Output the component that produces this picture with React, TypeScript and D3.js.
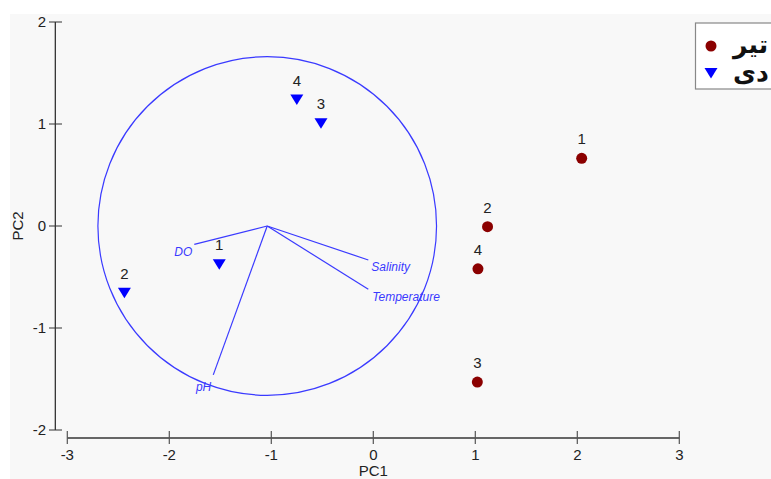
import React from "react";
import * as d3 from "d3";

const W = 771;
const H = 479;

// Series: تیر (dark red circles)
const tirLabels = ["1", "2", "3", "4"];
const tirX = [2.043, 1.12, 1.02, 1.026];
const tirY = [0.664, -0.007, -1.53, -0.42];

// Series: دی (blue triangles)
const deyLabels = ["1", "2", "3", "4"];
const deyX = [-1.51, -2.44, -0.513, -0.75];
const deyY = [-0.375, -0.654, 1.007, 1.24];

// Biplot vectors
const vecNames = ["DO", "Salinity", "Temperature", "pH"];
const vecX = [-1.755, -0.049, -0.049, -1.569];
const vecY = [-0.18, -0.333, -0.62, -1.46];
const vecOrigin = [-1.04, 0];
const circleRadius = 1.66;

const xTicks = [-3, -2, -1, 0, 1, 2, 3];
const yTicks = [-2, -1, 0, 1, 2];
const legendNames = ["تیر", "دی"];

export default function App() {
  const x = d3.scaleLinear().domain([-3, 3]).range([67.3, 679.3]);
  const y = d3.scaleLinear().domain([-2, 2]).range([430, 22]);
  const axisY = 438;
  const axisX = 55.3;
  const blue = "#0000ff";
  const red = "#8b0000";
  const vecColor = "#3a3aff";
  const tri = (cx: number, cy: number) =>
    `M${cx - 6.5},${cy - 5}L${cx + 6.5},${cy - 5}L${cx},${cy + 5.5}Z`;
  const ox = x(vecOrigin[0]);
  const oy = y(vecOrigin[1]);
  const r = x(circleRadius) - x(0);
  const labelAnchors = ["end", "start", "start", "end"];
  const labelDx = [-2, 3, 4, -2];
  const labelDy = [12, 11, 12, 16];

  return (
    <svg
      width={W}
      height={H}
      style={{ position: "fixed", left: 0, top: 0 }}
      fontFamily="'Liberation Sans', Arial, sans-serif"
    >
      <rect x={0} y={0} width={W} height={H} fill="#ffffff" />
      <rect x={10} y={14} width={W - 10} height={H - 14} fill="#f8f8f8" />

      {/* circle & vectors */}
      <circle cx={ox} cy={oy} r={r} fill="none" stroke={vecColor} strokeWidth={1.2} />
      {vecNames.map((n, i) => (
        <g key={n}>
          <line x1={ox} y1={oy} x2={x(vecX[i])} y2={y(vecY[i])} stroke={vecColor} strokeWidth={1.2} />
          <text
            x={x(vecX[i]) + labelDx[i]}
            y={y(vecY[i]) + labelDy[i]}
            textAnchor={labelAnchors[i]}
            fontStyle="italic"
            fontSize={12}
            fill={vecColor}
          >
            {n}
          </text>
        </g>
      ))}

      {/* y axis */}
      <line x1={axisX} x2={axisX} y1={y(2)} y2={y(-2)} stroke="#222" strokeWidth={1.2} />
      {yTicks.map((t) => (
        <g key={t}>
          <line x1={49} x2={62} y1={y(t)} y2={y(t)} stroke="#333" strokeWidth={1} />
          <text x={46} y={y(t) + 5} textAnchor="end" fontSize={15} fill="#222">
            {t}
          </text>
        </g>
      ))}
      <text
        transform={`translate(23,${y(0)}) rotate(-90)`}
        textAnchor="middle"
        fontSize={15}
        fill="#222"
      >
        PC2
      </text>

      {/* x axis */}
      <line x1={x(-3)} x2={x(3)} y1={axisY} y2={axisY} stroke="#666" strokeWidth={2} />
      {xTicks.map((t) => (
        <g key={t}>
          <line x1={x(t)} x2={x(t)} y1={431} y2={444} stroke="#555" strokeWidth={1.2} />
          <text x={x(t)} y={460} textAnchor="middle" fontSize={15} fill="#222">
            {t}
          </text>
        </g>
      ))}
      <text x={x(0)} y={476} textAnchor="middle" fontSize={15} fill="#222">
        PC1
      </text>

      {/* points */}
      {tirX.map((v, i) => (
        <g key={"t" + i}>
          <circle cx={x(v)} cy={y(tirY[i])} r={5.5} fill={red} />
          <text x={x(v)} y={y(tirY[i]) - 14} textAnchor="middle" fontSize={15} fill="#222">
            {tirLabels[i]}
          </text>
        </g>
      ))}
      {deyX.map((v, i) => (
        <g key={"d" + i}>
          <path d={tri(x(v), y(deyY[i]))} fill={blue} />
          <text x={x(v)} y={y(deyY[i]) - 14} textAnchor="middle" fontSize={15} fill="#222">
            {deyLabels[i]}
          </text>
        </g>
      ))}

      {/* legend */}
      <rect x={695.5} y={23} width={90} height={66} fill="#ffffff" stroke="#888" strokeWidth={1.2} />
      <circle cx={711} cy={46} r={5.5} fill={red} />
      <path d={tri(711, 73)} fill={blue} />
      <text x={733} y={53} fontSize={25} fontWeight="bold" fontFamily="'DejaVu Sans', sans-serif" fill="#111">
        {legendNames[0]}
      </text>
      <text x={733} y={81} fontSize={25} fontWeight="bold" fontFamily="'DejaVu Sans', sans-serif" fill="#111">
        {legendNames[1]}
      </text>
    </svg>
  );
}
